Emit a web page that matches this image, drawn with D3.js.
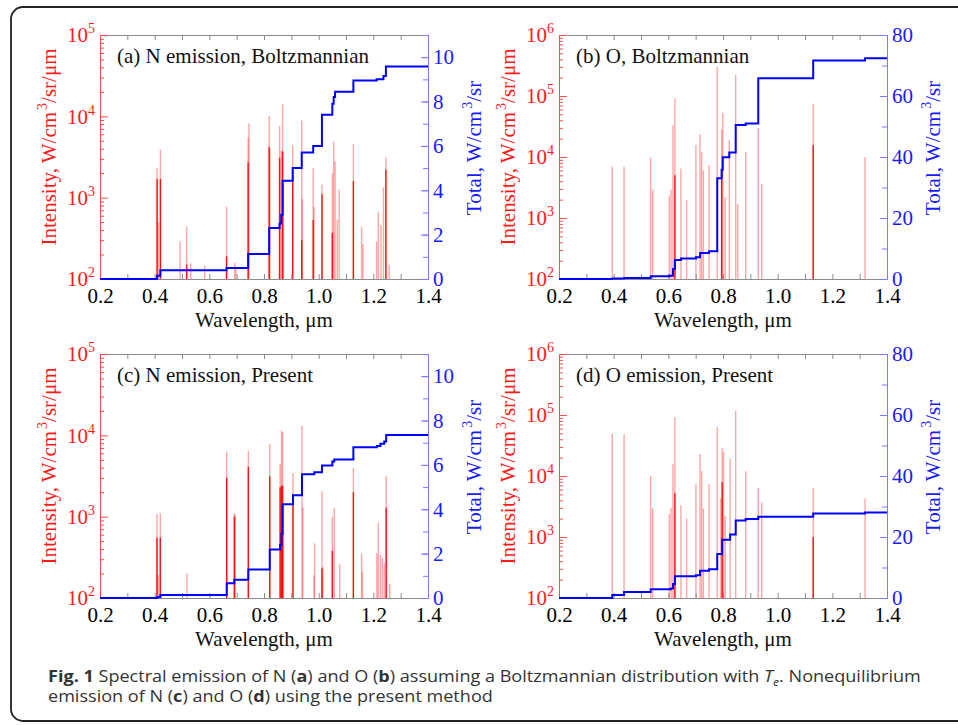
<!DOCTYPE html>
<html lang="en">
<head>
<meta charset="utf-8">
<title>Spectral emission of N and O</title>
<script src="https://d3js.org/d3.v7.min.js"></script>
<style>
  body { margin: 0; background: #fff; }
  svg { display: block; }
</style>
</head>
<body>
<svg width="958" height="725"></svg>
<script>
// ---- data ----
// wavelength ticks (um)
const xLabels = [0.2, 0.4, 0.6, 0.8, 1.0, 1.2, 1.4];
const xTickAll = d3.range(2, 15).map(d => d / 10);

// spectral lines: [wavelength um, peak intensity, strong core intensity (0 = none)]
const nBoltzLines = [
  [0.409, 2300, 1700], [0.413, 500, 0], [0.421, 3900, 1700], [0.493, 290, 0],
  [0.517, 440, 150], [0.532, 156, 0], [0.583, 145, 0], [0.663, 780, 190],
  [0.693, 160, 0], [0.697, 140, 0], [0.742, 5500, 2700], [0.745, 8200, 0],
  [0.819, 10100, 4200], [0.822, 4000, 0], [0.857, 7600, 3100], [0.863, 3800, 0],
  [0.868, 14000, 3700], [0.871, 1500, 0], [0.905, 4400, 2100], [0.938, 8900, 300],
  [0.940, 960, 0], [0.980, 2300, 530], [0.983, 770, 0], [1.012, 1440, 1100],
  [1.050, 2000, 370], [1.055, 4900, 0], [1.060, 2800, 0], [1.068, 540, 0],
  [1.075, 1260, 0], [1.127, 4600, 1600], [1.157, 440, 0], [1.162, 270, 0],
  [1.212, 290, 0], [1.218, 670, 0], [1.228, 460, 0], [1.237, 1340, 0],
  [1.246, 3150, 2200], [1.258, 150, 0]
];
const oBoltzLines = [
  [0.395, 6900, 0], [0.438, 6900, 0], [0.5355, 9800, 0], [0.543, 2900, 0],
  [0.6035, 2330, 0], [0.610, 2900, 0], [0.617, 33000, 0], [0.624, 91000, 5000],
  [0.646, 6500, 0], [0.667, 1970, 0], [0.701, 15700, 0], [0.716, 23500, 0],
  [0.722, 12000, 0], [0.728, 6000, 0], [0.749, 7400, 0], [0.779, 300000, 0],
  [0.795, 28000, 5700], [0.799, 53000, 0], [0.808, 2200, 0], [0.823, 19000, 0],
  [0.8465, 220000, 0], [0.854, 1700, 0], [0.883, 12000, 0], [0.929, 30000, 0],
  [0.9415, 3600, 0], [1.130, 74000, 15800], [1.3195, 10000, 0]
];
const nPresentLines = [
  [0.4085, 1070, 550], [0.413, 190, 0], [0.4207, 1100, 550], [0.518, 200, 0],
  [0.6635, 6300, 3000], [0.6915, 1100, 1000], [0.695, 1050, 0], [0.7427, 6500, 4100],
  [0.821, 7800, 3150], [0.859, 4400, 2300], [0.864, 11500, 2400], [0.868, 11000, 2400],
  [0.871, 1500, 0], [0.906, 3450, 1900], [0.939, 13000, 0], [0.942, 1300, 0],
  [0.983, 190, 0], [0.985, 470, 0], [1.012, 2050, 230], [1.015, 240, 0],
  [1.050, 1000, 380], [1.057, 1290, 0], [1.077, 260, 0], [1.127, 4000, 2000],
  [1.157, 355, 0], [1.160, 210, 0], [1.213, 355, 0], [1.218, 850, 0],
  [1.226, 340, 0], [1.233, 310, 0], [1.240, 270, 0], [1.247, 3150, 1300],
  [1.260, 150, 0]
];
const oPresentLines = [
  [0.395, 49000, 0], [0.438, 49000, 0], [0.5355, 9900, 0], [0.543, 2970, 0],
  [0.6035, 2380, 0], [0.610, 3000, 0], [0.617, 15800, 0], [0.624, 93000, 5200],
  [0.646, 3300, 0], [0.667, 2000, 0], [0.701, 7300, 0], [0.716, 23000, 0],
  [0.722, 12000, 0], [0.728, 2900, 0], [0.749, 7400, 0], [0.779, 63000, 0],
  [0.792, 4300, 0], [0.797, 29000, 8000], [0.802, 25000, 0], [0.808, 2200, 0],
  [0.826, 19000, 0], [0.8465, 118000, 0], [0.883, 12000, 0], [0.929, 6400, 0],
  [0.9415, 3700, 0], [1.130, 6400, 1000], [1.3195, 4300, 0]
];

// cumulative totals: [wavelength um, total W/cm3/sr from there on]
const nBoltzTotal = [
  [0.2, 0], [0.409, 0.15], [0.421, 0.39], [0.663, 0.5], [0.742, 1.13], [0.819, 2.3],
  [0.857, 2.5], [0.863, 2.9], [0.868, 4.43], [0.905, 5.0], [0.938, 5.7], [0.980, 6.0],
  [1.012, 7.41], [1.050, 7.9], [1.055, 8.2], [1.060, 8.44], [1.127, 8.95], [1.212, 9.0],
  [1.237, 9.15], [1.246, 9.58], [1.4, 9.58]
];
const oBoltzTotal = [
  [0.2, 0], [0.395, 0.2], [0.438, 0.35], [0.5355, 0.9], [0.6035, 1.1], [0.617, 3.3],
  [0.624, 6.2], [0.646, 6.7], [0.701, 7.1], [0.716, 8.5], [0.749, 9.1], [0.779, 33],
  [0.795, 35.8], [0.799, 39.9], [0.823, 41.5], [0.8465, 50.5], [0.883, 51], [0.929, 65.8],
  [1.130, 71.6], [1.3195, 72.4], [1.4, 72.4]
];
const nPresentTotal = [
  [0.2, 0], [0.41, 0.05], [0.421, 0.13], [0.6635, 0.67], [0.6915, 0.82], [0.7427, 1.28],
  [0.821, 2.19], [0.859, 2.4], [0.864, 2.9], [0.868, 4.23], [0.906, 4.63], [0.939, 5.58],
  [0.984, 5.67], [1.012, 5.97], [1.050, 6.15], [1.057, 6.24], [1.127, 6.8], [1.213, 6.85],
  [1.226, 6.95], [1.240, 7.05], [1.247, 7.35], [1.4, 7.35]
];
const oPresentTotal = [
  [0.2, 0], [0.395, 1.0], [0.438, 2.0], [0.5355, 2.85], [0.61, 3.1], [0.617, 4.6],
  [0.624, 7.1], [0.701, 7.5], [0.716, 8.9], [0.749, 9.4], [0.779, 14.4], [0.797, 19.1],
  [0.826, 20.8], [0.8465, 25.4], [0.883, 25.9], [0.929, 26.6], [1.130, 27.7],
  [1.3195, 28.0], [1.4, 28.0]
];

const panels = [
  { title: "(a) N emission, Boltzmannian", lines: nBoltzLines, total: nBoltzTotal,
    decades: [2, 5], rMax: 11, rTicks: d3.range(0, 11, 2), rMinor: d3.range(0, 12, 1), x0: 100, y0: 35 },
  { title: "(b) O, Boltzmannian", lines: oBoltzLines, total: oBoltzTotal,
    decades: [2, 6], rMax: 80, rTicks: d3.range(0, 81, 20), rMinor: d3.range(0, 81, 10), x0: 559, y0: 35 },
  { title: "(c) N emission, Present", lines: nPresentLines, total: nPresentTotal,
    decades: [2, 5], rMax: 11, rTicks: d3.range(0, 11, 2), rMinor: d3.range(0, 12, 1), x0: 100, y0: 354 },
  { title: "(d) O emission, Present", lines: oPresentLines, total: oPresentTotal,
    decades: [2, 6], rMax: 80, rTicks: d3.range(0, 81, 20), rMinor: d3.range(0, 81, 10), x0: 559, y0: 354 }
];

const W = 328, H = 244;
const serif = "'Liberation Serif', 'Times New Roman', serif";
const RED = "#ff1a1a", BLUE = "#1a1aff";

const svg = d3.select("svg");

// outer rounded frame
svg.append("rect")
  .attr("x", 11).attr("y", 7)
  .attr("width", 980).attr("height", 714)
  .attr("rx", 12)
  .attr("fill", "none")
  .attr("stroke", "#222")
  .attr("stroke-width", 1.8);

function styleAxis(sel, color, lineColor) {
  sel.attr("font-family", serif).attr("font-size", 21);
  sel.selectAll("line").attr("stroke", lineColor);
  sel.select(".domain").attr("stroke", lineColor);
  sel.selectAll("text").attr("fill", color);
}

panels.forEach(p => {
  const g = svg.append("g").attr("transform", `translate(${p.x0},${p.y0})`);

  const x = d3.scaleLinear().domain([0.2, 1.4]).range([0, W]);
  const yL = d3.scaleLog().domain([Math.pow(10, p.decades[0]), Math.pow(10, p.decades[1])]).range([H, 0]);
  const yR = d3.scaleLinear().domain([0, p.rMax]).range([H, 0]);

  // spectral lines (faint envelope then strong core)
  g.append("g").selectAll("line")
    .data(p.lines)
    .join("line")
    .attr("x1", d => x(d[0])).attr("x2", d => x(d[0]))
    .attr("y1", H).attr("y2", d => yL(d[1]))
    .attr("stroke", "#ff0000")
    .attr("stroke-opacity", 0.35)
    .attr("stroke-width", 1.4);

  g.append("g").selectAll("line")
    .data(p.lines.filter(d => d[2] > 0))
    .join("line")
    .attr("x1", d => x(d[0])).attr("x2", d => x(d[0]))
    .attr("y1", H).attr("y2", d => yL(d[2]))
    .attr("stroke", "#ff0000")
    .attr("stroke-opacity", 0.9)
    .attr("stroke-width", 1.4);

  // top axis (ticks only)
  const top = g.append("g")
    .call(d3.axisTop(x).tickValues(xTickAll).tickSizeInner(-5).tickSizeOuter(0).tickFormat(""));
  styleAxis(top, "#000", "#8c8c8c");

  // bottom axis
  const bottom = g.append("g")
    .attr("transform", `translate(0,${H})`)
    .call(d3.axisBottom(x).tickValues(xTickAll).tickSizeInner(-5).tickSizeOuter(0).tickPadding(9)
      .tickFormat(d => Math.round(d * 10) % 2 === 0 ? d.toFixed(1) : ""));
  styleAxis(bottom, "#000", "#8c8c8c");

  // left log axis
  const decadeVals = d3.range(p.decades[0], p.decades[1] + 1).map(e => Math.pow(10, e));
  const minorVals = [];
  d3.range(p.decades[0], p.decades[1]).forEach(e => {
    for (let k = 2; k <= 9; k++) minorVals.push(k * Math.pow(10, e));
  });
  const leftMinor = g.append("g")
    .call(d3.axisLeft(yL).tickValues(minorVals).tickSizeInner(-4).tickSizeOuter(0).tickFormat(""));
  styleAxis(leftMinor, RED, "#ff4d4d");
  const left = g.append("g")
    .call(d3.axisLeft(yL).tickValues(decadeVals).tickSizeInner(-8).tickSizeOuter(0).tickFormat(""));
  styleAxis(left, RED, "#ff4d4d");

  const leftLabels = g.append("g")
    .attr("font-family", serif).attr("font-size", 21).attr("fill", RED)
    .attr("text-anchor", "end");
  decadeVals.forEach(v => {
    const t = leftLabels.append("text")
      .attr("x", -5).attr("y", yL(v)).attr("dy", "0.35em");
    t.append("tspan").text("10");
    t.append("tspan").attr("font-size", 14).attr("dy", -9).text(Math.round(Math.log10(v)));
  });

  // right linear axis
  const rightMinor = g.append("g")
    .attr("transform", `translate(${W},0)`)
    .call(d3.axisRight(yR).tickValues(p.rMinor).tickSizeInner(-5).tickSizeOuter(0).tickFormat(""));
  styleAxis(rightMinor, BLUE, "#7a7aff");
  const right = g.append("g")
    .attr("transform", `translate(${W},0)`)
    .call(d3.axisRight(yR).tickValues(p.rTicks).tickSizeInner(-7).tickSizeOuter(0).tickPadding(5));
  styleAxis(right, BLUE, "#7a7aff");

  // cumulative total step line
  const step = d3.line()
    .x(d => x(d[0]))
    .y(d => yR(d[1]))
    .curve(d3.curveStepAfter);
  g.append("path")
    .datum(p.total)
    .attr("d", step)
    .attr("fill", "none")
    .attr("stroke", "#0000ff")
    .attr("stroke-width", 2);

  // panel title
  g.append("text")
    .attr("x", 17).attr("y", 28)
    .attr("font-family", serif).attr("font-size", 21)
    .attr("fill", "#111")
    .text(p.title);

  // axis titles
  g.append("text")
    .attr("text-anchor", "middle")
    .attr("x", W / 2).attr("y", H + 48)
    .attr("font-family", serif).attr("font-size", 21)
    .attr("fill", "#111")
    .text("Wavelength, μm");

  const lt = g.append("text")
    .attr("transform", `translate(-44,${H / 2 - 10}) rotate(-90)`)
    .attr("text-anchor", "middle")
    .attr("font-family", serif).attr("font-size", 21)
    .attr("fill", RED);
  lt.append("tspan").text("Intensity, W/cm");
  lt.append("tspan").attr("font-size", 14).attr("dy", -9).attr("dx", 2).text("3");
  lt.append("tspan").attr("dy", 9).text("/sr/μm");

  const rt = g.append("text")
    .attr("transform", `translate(${W + 53},${H / 2 - 9}) rotate(-90)`)
    .attr("text-anchor", "middle")
    .attr("font-family", serif).attr("font-size", 21)
    .attr("fill", BLUE);
  rt.append("tspan").text("Total, W/cm");
  rt.append("tspan").attr("font-size", 14).attr("dy", -9).attr("dx", 2).text("3");
  rt.append("tspan").attr("dy", 9).text("/sr");
});

// caption
const cap = svg.append("g")
  .attr("font-family", "'Open Sans', 'Noto Sans', sans-serif")
  .attr("font-size", 16.5)
  .attr("fill", "#333");

const line1 = cap.append("text").attr("x", 0).attr("y", 0);
line1.append("tspan").attr("font-weight", "bold").text("Fig. 1");
line1.append("tspan").text(" Spectral emission of N (");
line1.append("tspan").attr("font-weight", "bold").text("a");
line1.append("tspan").text(") and O (");
line1.append("tspan").attr("font-weight", "bold").text("b");
line1.append("tspan").text(") assuming a Boltzmannian distribution with ");
line1.append("tspan").attr("font-style", "italic").text("T");
line1.append("tspan").attr("font-style", "italic").attr("font-size", 11).attr("dy", 4).text("e");
line1.append("tspan").attr("dy", -4).text(". Nonequilibrium");

const line2 = cap.append("text").attr("x", 0).attr("y", 20);
line2.append("tspan").text("emission of N (");
line2.append("tspan").attr("font-weight", "bold").text("c");
line2.append("tspan").text(") and O (");
line2.append("tspan").attr("font-weight", "bold").text("d");
line2.append("tspan").text(") using the present method");

// squeeze the caption to the width it has in the figure
const w1 = line1.node().getComputedTextLength();
const sx = 873 / w1;
cap.attr("transform", `translate(48,682) scale(${sx},1)`);
</script>
</body>
</html>
